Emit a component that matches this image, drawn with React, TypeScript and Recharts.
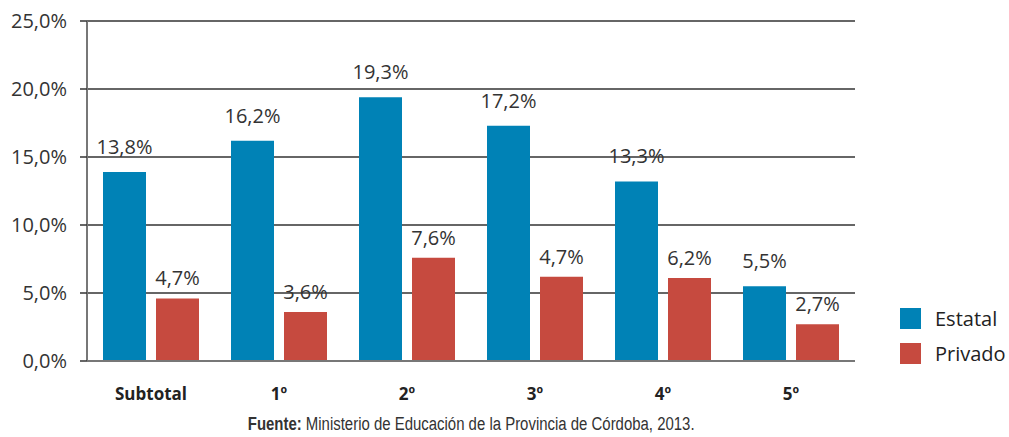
import React from 'react';
import { BarChart, Bar, XAxis, YAxis, CartesianGrid, LabelList } from 'recharts';

const categories = ['Subtotal', '1º', '2º', '3º', '4º', '5º'];
const estatal = [13.9, 16.2, 19.4, 17.3, 13.2, 5.5];
const privado = [4.6, 3.6, 7.6, 6.2, 6.1, 2.7];
const estatalLabels = ['13,8%', '16,2%', '19,3%', '17,2%', '13,3%', '5,5%'];
const privadoLabels = ['4,7%', '3,6%', '7,6%', '4,7%', '6,2%', '2,7%'];
const yTicks = [0, 5, 10, 15, 20, 25];

const BLUE = '#0082b6';
const RED = '#c64a3f';
const FONT = '"Open Sans", "Noto Sans", sans-serif';

const data = categories.map((name, i) => ({
  name,
  Estatal: estatal[i],
  Privado: privado[i],
  estatalLabel: estatalLabels[i],
  privadoLabel: privadoLabels[i],
}));

const LegendBox = () => (
  <div style={{ position: 'absolute', left: 900, top: 308, fontFamily: FONT, fontSize: 20, color: '#222' }}>
    {[['Estatal', BLUE], ['Privado', RED]].map(([label, color]) => (
      <div key={label} style={{ display: 'flex', alignItems: 'center', height: 21, marginBottom: 14 }}>
        <span style={{ width: 21, height: 21, background: color, display: 'inline-block', marginRight: 14 }} />
        <span>{label}</span>
      </div>
    ))}
  </div>
);

export default function App() {
  return (
    <div style={{ position: 'absolute', left: 0, top: 0, width: 1009, height: 437, background: '#fff' }}>
      <BarChart
        width={1009}
        height={437}
        data={data}
        margin={{ top: 21, right: 154, left: 0, bottom: 46 }}
        barSize={43}
        barGap={10}
      >
        <CartesianGrid vertical={false} stroke="#333" strokeWidth={1.5} />
        <YAxis
          width={87}
          domain={[0, 25]}
          ticks={yTicks}
          interval={0}
          tickSize={7}
          tickMargin={13}
          tickLine={{ stroke: '#333', strokeWidth: 1.5 }}
          axisLine={{ stroke: '#777', strokeWidth: 2 }}
          tick={{ fontSize: 20, fill: '#333', fontFamily: FONT }}
          tickFormatter={(v: number) => `${v.toFixed(1).replace('.', ',')}%`}
        />
        <XAxis
          dataKey="name"
          height={30}
          tickLine={false}
          axisLine={{ stroke: '#777', strokeWidth: 2 }}
          tick={{ fontSize: 17, fill: '#222', fontWeight: 700, fontFamily: FONT }}
          tickMargin={21}
        />
        <Bar dataKey="Estatal" fill={BLUE} isAnimationActive={false}>
          <LabelList
            dataKey="estatalLabel"
            position="top"
            offset={18}
            style={{ fontSize: 20, fill: '#333', fontFamily: FONT }}
          />
        </Bar>
        <Bar dataKey="Privado" fill={RED} isAnimationActive={false}>
          <LabelList
            dataKey="privadoLabel"
            position="top"
            offset={13}
            style={{ fontSize: 20, fill: '#333', fontFamily: FONT }}
          />
        </Bar>
      </BarChart>
      <LegendBox />
      <div
        style={{
          position: 'absolute',
          left: 0,
          width: 942,
          top: 414,
          textAlign: 'center',
          fontFamily: '"Liberation Sans", sans-serif',
          fontSize: 18,
          color: '#333',
        }}
      >
        <span style={{ display: 'inline-block', transform: 'scaleX(0.83)', whiteSpace: 'nowrap' }}>
          <b>Fuente:</b> Ministerio de Educación de la Provincia de Córdoba, 2013.
        </span>
      </div>
    </div>
  );
}
